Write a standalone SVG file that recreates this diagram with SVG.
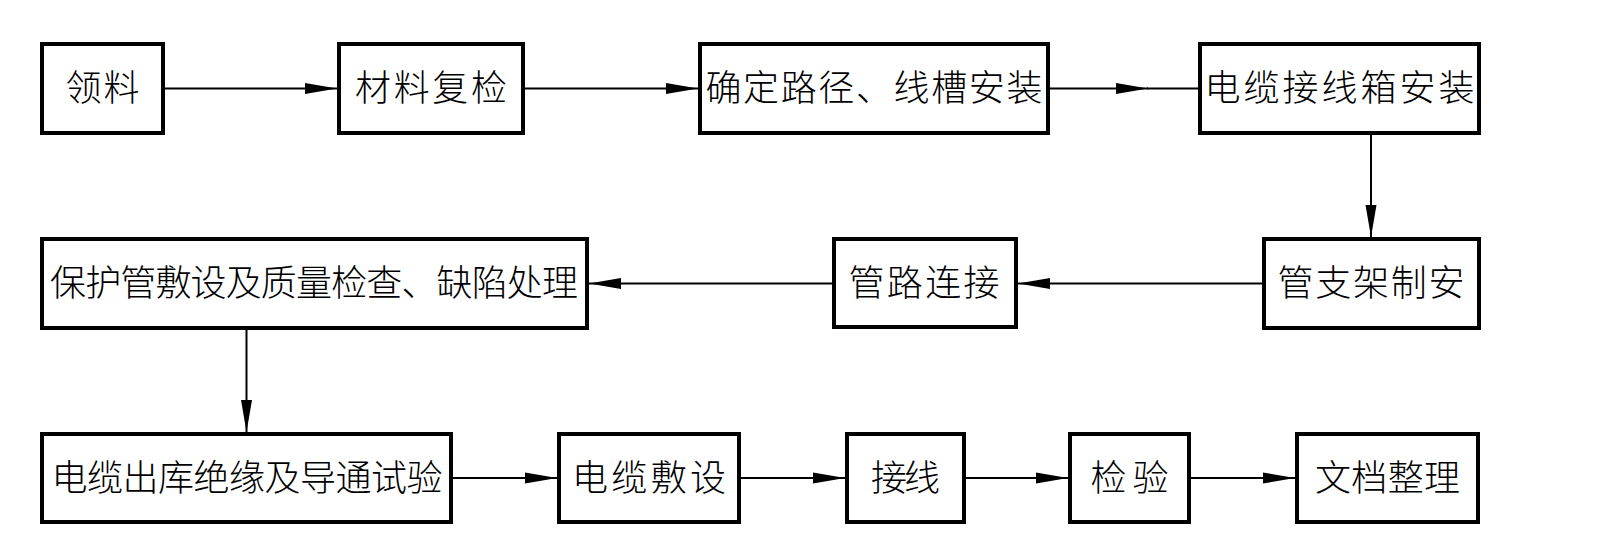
<svg xmlns="http://www.w3.org/2000/svg" width="1608" height="546" viewBox="0 0 1608 546">
<style>
.box{fill:#fff;stroke:#000;stroke-width:4}
.lbl{font-family:"Noto Sans CJK SC","Liberation Sans",sans-serif;font-size:36px;font-weight:300;fill:#000;text-anchor:middle}
.con{stroke:#000;stroke-width:2;fill:none}
</style>
<defs>
<marker id="arr" markerUnits="userSpaceOnUse" markerWidth="33" markerHeight="12" refX="32" refY="6" orient="auto">
<path d="M0,0.5 L32,6 L0,11.5 Z" fill="#000"/>
</marker>
</defs>
<rect width="1608" height="546" fill="#fff"/>
<g id="connectors">
<line class="con" x1="165" y1="88.5" x2="337" y2="88.5" marker-end="url(#arr)"/>
<line class="con" x1="525" y1="88.5" x2="698" y2="88.5" marker-end="url(#arr)"/>
<line class="con" x1="1050" y1="88.5" x2="1148" y2="88.5" marker-end="url(#arr)"/>
<line class="con" x1="1147" y1="88.5" x2="1198" y2="88.5"/>
<line class="con" x1="1371" y1="135" x2="1371" y2="237" marker-end="url(#arr)"/>
<line class="con" x1="1262" y1="283.5" x2="1018" y2="283.5" marker-end="url(#arr)"/>
<line class="con" x1="832" y1="283.5" x2="589" y2="283.5" marker-end="url(#arr)"/>
<line class="con" x1="246.5" y1="330" x2="246.5" y2="432" marker-end="url(#arr)"/>
<line class="con" x1="453" y1="478" x2="557" y2="478" marker-end="url(#arr)"/>
<line class="con" x1="741" y1="478" x2="845" y2="478" marker-end="url(#arr)"/>
<line class="con" x1="966" y1="478" x2="1068" y2="478" marker-end="url(#arr)"/>
<line class="con" x1="1191" y1="478" x2="1295" y2="478" marker-end="url(#arr)"/>
</g>
<g id="n1"><rect class="box" x="42" y="44" width="121" height="89"/><text class="lbl" x="102.5" y="101" textLength="74" lengthAdjust="spacing">领料</text></g>
<g id="n2"><rect class="box" x="339" y="44" width="184" height="89"/><text class="lbl" x="431" y="101" textLength="152" lengthAdjust="spacing">材料复检</text></g>
<g id="n3"><rect class="box" x="700" y="44" width="348" height="89"/><text class="lbl" x="874" y="101" textLength="337" lengthAdjust="spacing">确定路径、线槽安装</text></g>
<g id="n4"><rect class="box" x="1200" y="44" width="279" height="89"/><text class="lbl" x="1339.5" y="101" textLength="270" lengthAdjust="spacing">电缆接线箱安装</text></g>
<g id="n5"><rect class="box" x="1264" y="239" width="215" height="89"/><text class="lbl" x="1371" y="296" textLength="187" lengthAdjust="spacing">管支架制安</text></g>
<g id="n6"><rect class="box" x="834" y="239" width="182" height="88"/><text class="lbl" x="924" y="296" textLength="151" lengthAdjust="spacing">管路连接</text></g>
<g id="n7"><rect class="box" x="42" y="239" width="545" height="89"/><text class="lbl" x="314" y="296" textLength="528" lengthAdjust="spacing">保护管敷设及质量检查、缺陷处理</text></g>
<g id="n8"><rect class="box" x="42" y="434" width="409" height="88"/><text class="lbl" x="247" y="491" textLength="391" lengthAdjust="spacing">电缆出库绝缘及导通试验</text></g>
<g id="n9"><rect class="box" x="559" y="434" width="180" height="88"/><text class="lbl" x="649" y="491" textLength="154" lengthAdjust="spacing">电缆敷设</text></g>
<g id="n10"><rect class="box" x="847" y="434" width="117" height="88"/><text class="lbl" x="905.5" y="491" textLength="69" lengthAdjust="spacing">接线</text></g>
<g id="n11"><rect class="box" x="1070" y="434" width="119" height="88"/><text class="lbl" x="1129.5" y="491" textLength="78" lengthAdjust="spacing">检验</text></g>
<g id="n12"><rect class="box" x="1297" y="434" width="181" height="88"/><text class="lbl" x="1387.5" y="491" textLength="145" lengthAdjust="spacing">文档整理</text></g>
</svg>
